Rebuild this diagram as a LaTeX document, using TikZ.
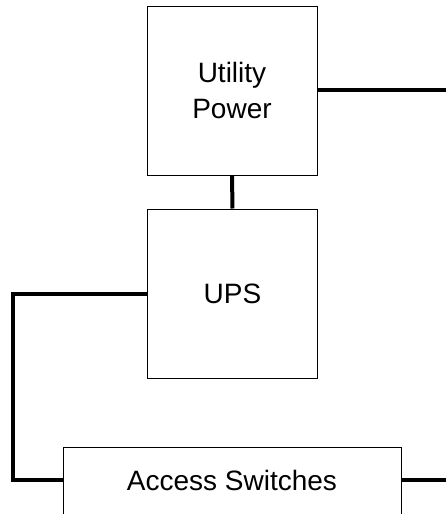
\documentclass[tikz,border=0pt]{standalone}
\usepackage{fontspec}
\setmainfont{Liberation Sans}
\begin{document}
\begin{tikzpicture}[x=0.75pt,y=-0.75pt,
  box/.style={draw,line width=0.75pt,minimum width=127.5pt,minimum height=126.75pt,inner sep=0pt,align=center,font=\fontsize{21}{27.5}\selectfont},
  wide/.style={draw,line width=0.75pt,minimum width=253.5pt,minimum height=75pt,inner sep=0pt,font=\fontsize{21}{27.5}\selectfont},
  wire/.style={line width=3pt}]
\useasboundingbox (0,0) rectangle (446,514);
\clip (0,0) rectangle (446,514);
\node[box] (util) at (232,90.5) {Utility\\Power};
\node[box] (ups) at (232.5,293.5) {UPS};
\node[wide,anchor=north west] (acc) at (63,447) {};
\node (acct) at (232,480) {\fontsize{21}{25}\selectfont Access Switches};
\coordinate (e1) at (446,90);
\coordinate (l1) at (13,294);
\coordinate (l2) at (13,480);
\coordinate (e2) at (446,480);
\draw[wire] (util.east |- e1) -- (e1);
\draw[wire] (util.south) -- (ups.north);
\draw[wire] (ups.west |- l1) -- (l1) -- (l2) -- (acc.west |- l2);
\draw[wire] (acc.east |- e2) -- (e2);
\end{tikzpicture}
\end{document}
